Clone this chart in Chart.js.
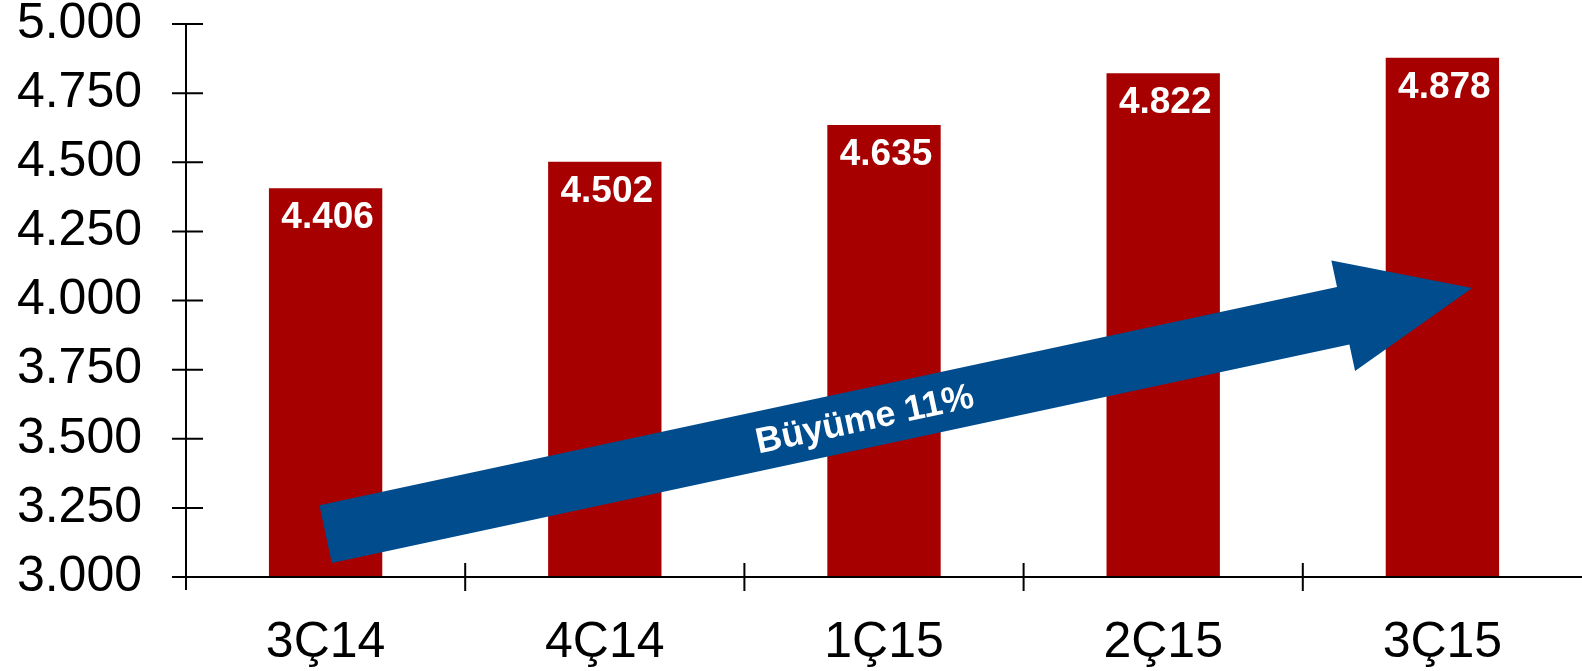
<!DOCTYPE html>
<html>
<head>
<meta charset="utf-8">
<script src="https://cdn.jsdelivr.net/npm/chart.js@4/dist/chart.umd.min.js"></script>
<style>
html,body{margin:0;padding:0;background:#fff;}
#wrap{width:1582px;height:671px;}
</style>
</head>
<body>
<div id="wrap"><canvas id="c" width="1582" height="671"></canvas></div>
<script>
const categories = ['3Ç14', '4Ç14', '1Ç15', '2Ç15', '3Ç15'];
const values = [4406, 4502, 4635, 4822, 4878];
const yTickValues = [3000, 3250, 3500, 3750, 4000, 4250, 4500, 4750, 5000];
const arrowLabel = 'Büyüme 11%';

const FONT = '"Liberation Sans", Arial, Helvetica, sans-serif';
const BAR_COLOR = 'rgb(166,0,0)';
const ARROW_COLOR = 'rgb(0,76,141)';

function fmt(v) {
  return String(v).replace(/\B(?=(\d{3})+(?!\d))/g, '.');
}

const axesPlugin = {
  id: 'axesPlugin',
  afterDraw(chart) {
    const ctx = chart.ctx;
    const x = chart.scales.x, y = chart.scales.y;
    const area = chart.chartArea;
    ctx.save();
    ctx.strokeStyle = '#000';
    ctx.lineWidth = 2;
    ctx.beginPath();
    // y axis line
    ctx.moveTo(area.left, y.getPixelForValue(y.max));
    ctx.lineTo(area.left, area.bottom + 13);
    // x axis line
    ctx.moveTo(area.left - 14, area.bottom);
    ctx.lineTo(area.right, area.bottom);
    // y ticks
    y.ticks.forEach(t => {
      const py = y.getPixelForValue(t.value);
      ctx.moveTo(area.left - 14, py);
      ctx.lineTo(area.left + 17, py);
    });
    // x category boundary ticks
    for (let i = 1; i < categories.length; i++) {
      const px = x.getPixelForValue(i - 0.5);
      ctx.moveTo(px, area.bottom - 14);
      ctx.lineTo(px, area.bottom + 14);
    }
    ctx.stroke();
    ctx.restore();
  }
};

const barLabelPlugin = {
  id: 'barLabelPlugin',
  afterDatasetsDraw(chart) {
    const ctx = chart.ctx;
    const meta = chart.getDatasetMeta(0);
    ctx.save();
    ctx.fillStyle = '#fff';
    ctx.font = 'bold 37px ' + FONT;
    ctx.textAlign = 'center';
    ctx.textBaseline = 'alphabetic';
    meta.data.forEach((bar, i) => {
      ctx.fillText(fmt(values[i]), bar.x + 2, bar.y + 40);
    });
    ctx.restore();
  }
};

const arrowPlugin = {
  id: 'arrowPlugin',
  afterDatasetsDraw(chart, args, opts) {
    const ctx = chart.ctx;
    const xs = chart.scales.x, ys = chart.scales.y;
    const p0 = {x: xs.getPixelForValue(opts.from[0]), y: ys.getPixelForValue(opts.from[1])};
    const p1 = {x: xs.getPixelForValue(opts.to[0]), y: ys.getPixelForValue(opts.to[1])};
    const dx = p1.x - p0.x, dy = p1.y - p0.y;
    const len = Math.hypot(dx, dy);
    const u = {x: dx / len, y: dy / len};
    const n = {x: -u.y, y: u.x};
    const hw = opts.shaftWidth / 2, hh = opts.headWidth / 2;
    const base = {x: p1.x - u.x * opts.headLength, y: p1.y - u.y * opts.headLength};
    ctx.save();
    ctx.fillStyle = opts.color;
    ctx.beginPath();
    ctx.moveTo(p0.x + n.x * hw, p0.y + n.y * hw);
    ctx.lineTo(base.x + n.x * hw, base.y + n.y * hw);
    ctx.lineTo(base.x + n.x * hh, base.y + n.y * hh);
    ctx.lineTo(p1.x, p1.y);
    ctx.lineTo(base.x - n.x * hh, base.y - n.y * hh);
    ctx.lineTo(base.x - n.x * hw, base.y - n.y * hw);
    ctx.lineTo(p0.x - n.x * hw, p0.y - n.y * hw);
    ctx.closePath();
    ctx.fill();
    // label
    const t = opts.labelAt;
    const lx = p0.x + dx * t, ly = p0.y + dy * t;
    ctx.translate(lx, ly);
    ctx.rotate(Math.atan2(dy, dx));
    ctx.fillStyle = '#fff';
    ctx.font = 'bold 36px ' + FONT;
    ctx.textAlign = 'center';
    ctx.textBaseline = 'middle';
    ctx.fillText(opts.label, 0, 2);
    ctx.restore();
  }
};

new Chart(document.getElementById('c'), {
  type: 'bar',
  data: {
    labels: categories,
    datasets: [{
      data: values,
      backgroundColor: BAR_COLOR,
      borderWidth: 0,
      categoryPercentage: 1.0,
      barPercentage: 0.406
    }]
  },
  options: {
    responsive: false,
    animation: false,
    devicePixelRatio: 1,
    layout: {padding: {left: 0, right: -4, top: 24, bottom: 0}},
    plugins: {
      legend: {display: false},
      tooltip: {enabled: false},
      arrowPlugin: {
        from: [0, 3155],
        to: [4.107, 4045],
        shaftWidth: 59,
        headWidth: 113,
        headLength: 132,
        color: ARROW_COLOR,
        label: arrowLabel,
        labelAt: 0.47
      }
    },
    scales: {
      x: {
        grid: {display: true, color: 'transparent', drawTicks: false, tickLength: 0},
        border: {display: false},
        ticks: {color: '#000', font: {family: FONT, size: 50}, padding: 36, maxRotation: 0, autoSkip: false},
        afterFit(scale) {
          scale.height = 94;
          scale.paddingLeft = 0;
          scale.paddingRight = 0;
        }
      },
      y: {
        min: 3000,
        max: 5000,
        grid: {display: true, color: 'transparent', drawTicks: false, tickLength: 0},
        border: {display: false},
        afterBuildTicks(scale) {
          scale.ticks = yTickValues.map(v => ({value: v}));
        },
        ticks: {
          color: '#000',
          font: {family: FONT, size: 50},
          padding: 44,
          callback: v => fmt(v)
        },
        afterFit(scale) {
          scale.width = 186;
          scale.paddingTop = 0;
          scale.paddingBottom = 0;
        }
      }
    }
  },
  plugins: [axesPlugin, barLabelPlugin, arrowPlugin]
});
</script>
</body>
</html>
